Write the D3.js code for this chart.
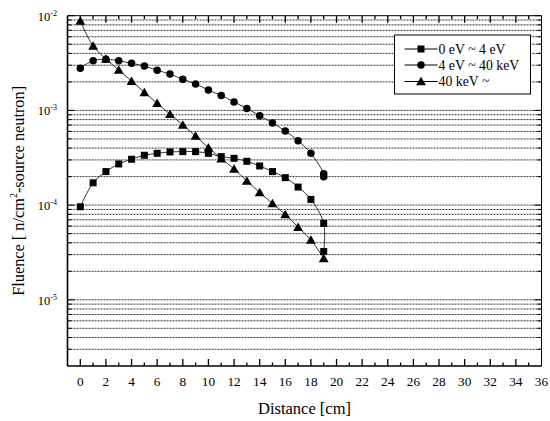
<!DOCTYPE html>
<html>
<head>
    <meta charset="utf-8">
    <title>fluence vs distance</title>
    <style>
        body { margin: 0; background: #fff; }
        text { font-family: "Liberation Serif", "Times New Roman", Times, serif; fill: #000; }
    </style>
</head>
<body>
<script src="https://d3js.org/d3.v7.min.js"></script>
<script type="text/javascript">
    // distances [cm], last point doubled at the surface
    var distance = [0,1,2,3,4,5,6,7,8,9,10,11,12,13,14,15,16,17,18,19,19];
    var distanceTri = [0,1,2,3,4,5,6,7,8,9,10,11,12,13,14,15,16,17,18,19];

    // 0 eV ~ 4 eV (squares)
    var thermal = [9.6e-5,1.72e-4,2.26e-4,2.72e-4,3.05e-4,3.36e-4,3.52e-4,3.64e-4,3.67e-4,3.67e-4,
                   3.52e-4,3.25e-4,3.12e-4,2.90e-4,2.59e-4,2.26e-4,1.95e-4,1.55e-4,1.15e-4,6.4e-5,3.24e-5];
    // 4 eV ~ 40 keV (circles)
    var epithermal = [2.79e-3,3.35e-3,3.47e-3,3.35e-3,3.14e-3,2.94e-3,2.65e-3,2.42e-3,2.13e-3,1.90e-3,
                      1.64e-3,1.44e-3,1.23e-3,1.05e-3,8.8e-4,7.36e-4,6.06e-4,4.79e-4,3.52e-4,2.14e-4,1.99e-4];
    // 40 keV ~ (triangles)
    var fast = [8.79e-3,4.79e-3,3.49e-3,2.67e-3,2.04e-3,1.55e-3,1.19e-3,9.1e-4,7.02e-4,5.37e-4,
                4.04e-4,3.09e-4,2.41e-4,1.80e-4,1.36e-4,1.04e-4,7.96e-5,5.85e-5,4.28e-5,2.73e-5];

    var legendLabels = ["0 eV ~ 4 eV", "4 eV ~ 40 keV", "40 keV ~"];
    var xTicks = d3.range(0, 37, 2);
    var decades = [-2, -3, -4, -5];

    var width = 550, height = 421;
    // note: "top" is a reserved window prop, so prefix these
    var pLeft = 67.5, pRight = 541.5, pTop = 15.7, pBottom = 366;

    var svg = d3.select('body').append('svg')
        .attr('width', width).attr('height', height);

    var x = d3.scaleLinear().domain([-1, 36]).range([pLeft, pRight]);
    var y = d3.scaleLog().domain([2e-6, 1e-2]).range([pBottom, pTop]);

    // dotted grid at every 1..9 x 10^n
    var gridVals = [];
    for (var e = -6; e <= -3; e++) {
        for (var k = 1; k <= 9; k++) {
            var v = k * Math.pow(10, e);
            if (v > 2.01e-6 && v < 0.99e-2) gridVals.push(v);
        }
    }
    svg.append('g').selectAll('line')
        .data(gridVals).enter().append('line')
        .attr('x1', pLeft).attr('x2', pRight)
        .attr('y1', function (d) { return y(d); })
        .attr('y2', function (d) { return y(d); })
        .attr('stroke', '#000').attr('stroke-width', 0.8)
        .attr('stroke-dasharray', '2,1');

    // y ticks (inward, both sides)
    var yAll = gridVals.concat([1e-2]);
    function isMajor(d) { return Math.abs(Math.log10(d) - Math.round(Math.log10(d))) < 1e-6; }
    svg.append('g').selectAll('line')
        .data(yAll).enter().append('line')
        .attr('x1', pLeft).attr('x2', function (d) { return pLeft + (isMajor(d) ? 7 : 4); })
        .attr('y1', function (d) { return y(d); }).attr('y2', function (d) { return y(d); })
        .attr('stroke', '#000').attr('stroke-width', 1);
    svg.append('g').selectAll('line')
        .data(yAll).enter().append('line')
        .attr('x1', pRight).attr('x2', function (d) { return pRight - (isMajor(d) ? 7 : 4); })
        .attr('y1', function (d) { return y(d); }).attr('y2', function (d) { return y(d); })
        .attr('stroke', '#000').attr('stroke-width', 1);

    // x axis ticks bottom + top
    var xMinor = d3.range(0, 36, 1);
    [pBottom, pTop].forEach(function (yy, i) {
        var dir = i == 0 ? -1 : 1;
        svg.append('g').selectAll('line')
            .data(xMinor).enter().append('line')
            .attr('x1', function (d) { return x(d); }).attr('x2', function (d) { return x(d); })
            .attr('y1', yy)
            .attr('y2', function (d) { return yy + dir * (d % 2 == 0 ? 7 : 3.5); })
            .attr('stroke', '#000').attr('stroke-width', 1.3);
    });

    // frame
    svg.append('line').attr('x1', pLeft).attr('x2', pRight).attr('y1', pBottom).attr('y2', pBottom)
        .attr('stroke', '#000').attr('stroke-width', 1.6);
    svg.append('line').attr('x1', pLeft).attr('x2', pLeft).attr('y1', pTop).attr('y2', pBottom)
        .attr('stroke', '#000').attr('stroke-width', 1.6);
    svg.append('line').attr('x1', pLeft).attr('x2', pRight).attr('y1', pTop).attr('y2', pTop)
        .attr('stroke', '#000').attr('stroke-width', 1);
    svg.append('line').attr('x1', pRight).attr('x2', pRight).attr('y1', pTop).attr('y2', pBottom)
        .attr('stroke', '#000').attr('stroke-width', 1);

    // tick labels
    svg.append('g').selectAll('text')
        .data(xTicks).enter().append('text')
        .attr('x', function (d) { return x(d); }).attr('y', 385.5)
        .attr('text-anchor', 'middle').attr('font-size', '13.3px')
        .text(function (d) { return d; });

    var yl = svg.append('g').selectAll('text')
        .data(decades).enter().append('text')
        .attr('x', 57).attr('y', function (d) { return y(Math.pow(10, d)) + 5; })
        .attr('text-anchor', 'end').attr('font-size', '12.5px');
    yl.append('tspan').text('10');
    yl.append('tspan').attr('dy', -5).attr('font-size', '8px').text(function (d) { return d; });

    // axis titles
    svg.append('text').attr('x', x(17.5)).attr('y', 413.5)
        .attr('text-anchor', 'middle').attr('font-size', '16.5px')
        .text('Distance [cm]');
    var yt = svg.append('text')
        .attr('transform', 'translate(24,' + ((pTop + pBottom) / 2) + ') rotate(-90)')
        .attr('text-anchor', 'middle').attr('font-size', '16.3px');
    yt.append('tspan').text('Fluence [ n/cm');
    yt.append('tspan').attr('dy', -7).attr('font-size', '10px').text('2');
    yt.append('tspan').attr('dy', 7).text('-source neutron]');

    // series
    var line = d3.line()
        .curve(d3.curveCatmullRom.alpha(0.5))
        .x(function (d) { return x(d[0]); })
        .y(function (d) { return y(d[1]); });

    var series = [
        { pts: d3.zip(distance, thermal), shape: d3.symbolSquare, size: 49 },
        { pts: d3.zip(distance, epithermal), shape: d3.symbolCircle, size: 44 },
        { pts: d3.zip(distanceTri, fast), shape: d3.symbolTriangle, size: 42 }
    ];

    series.forEach(function (s) {
        svg.append('path').datum(s.pts)
            .attr('d', line).attr('fill', 'none')
            .attr('stroke', '#000').attr('stroke-width', 0.8);
        svg.append('g').selectAll('path')
            .data(s.pts).enter().append('path')
            .attr('d', d3.symbol().type(s.shape).size(s.size))
            .attr('transform', function (d) {
                var dy = s.shape == d3.symbolTriangle ? 1 : 0;
                return 'translate(' + x(d[0]) + ',' + (y(d[1]) + dy) + ')';
            })
            .attr('fill', '#000');
    });

    // legend
    var lg = svg.append('g');
    lg.append('rect').attr('x', 394.5).attr('y', 35).attr('width', 136).attr('height', 59)
        .attr('fill', '#fff').attr('stroke', '#000').attr('stroke-width', 1);
    var rows = lg.selectAll('g').data(legendLabels).enter().append('g')
        .attr('transform', function (d, i) { return 'translate(0,' + [49, 65, 81.5][i] + ')'; });
    rows.append('line').attr('x1', 404.5).attr('x2', 437.5).attr('y1', 0).attr('y2', 0)
        .attr('stroke', '#000').attr('stroke-width', 1);
    rows.append('path')
        .attr('d', function (d, i) { return d3.symbol().type(series[i].shape).size(series[i].size)(); })
        .attr('transform', function (d, i) { return 'translate(421,' + (i == 2 ? 1 : 0) + ')'; })
        .attr('fill', '#000');
    rows.append('text').attr('x', 438.5).attr('y', 4.5).attr('font-size', '13.8px')
        .text(function (d) { return d; });
</script>
</body>
</html>
